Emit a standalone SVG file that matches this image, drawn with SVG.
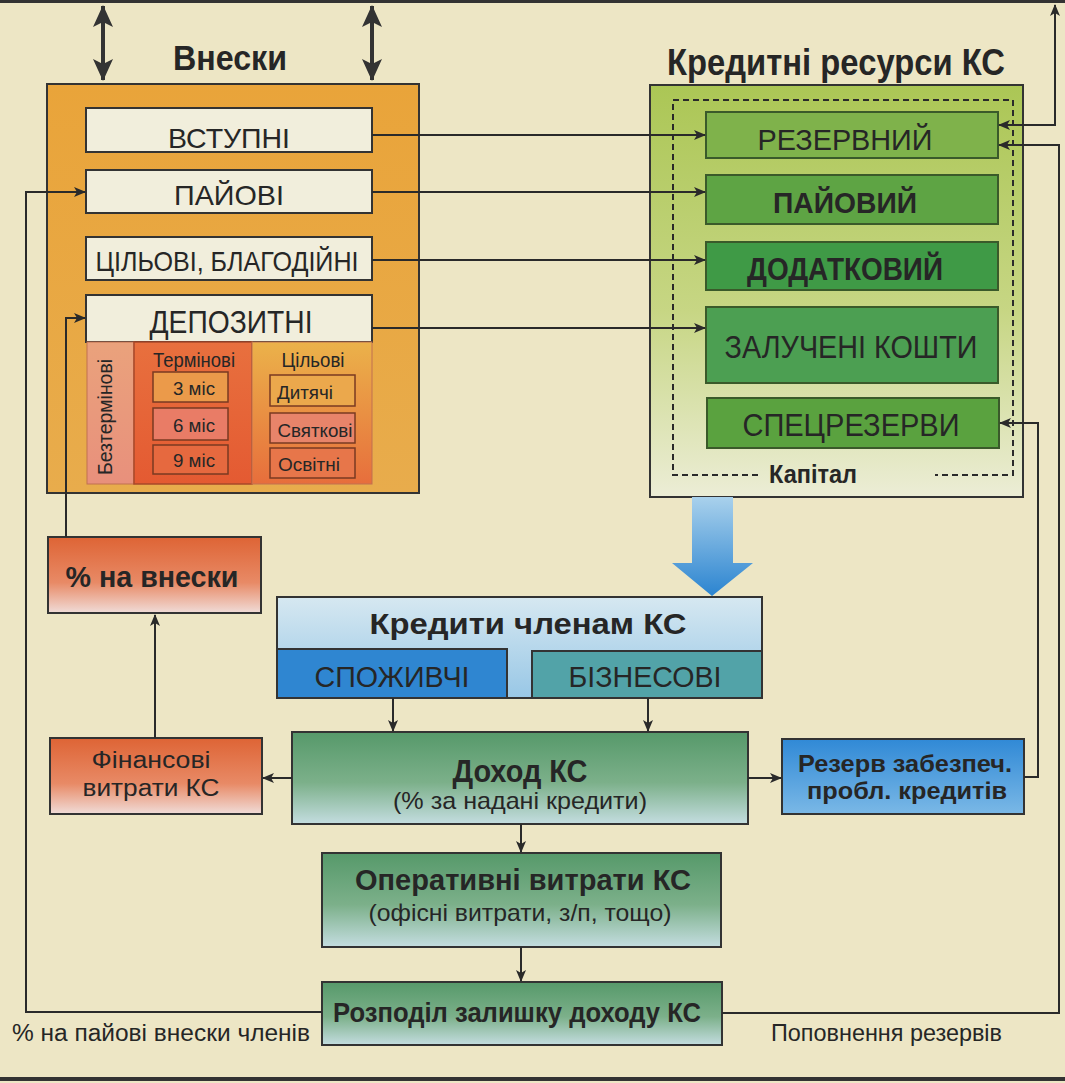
<svg xmlns="http://www.w3.org/2000/svg" width="1065" height="1083" viewBox="0 0 1065 1083">
<defs>
<marker id="ah" viewBox="0 0 12 10" refX="11" refY="5" markerWidth="12" markerHeight="10" markerUnits="userSpaceOnUse" orient="auto-start-reverse">
<path d="M0,0 L12,5 L0,10 L3,5 z" fill="#2a2a2a"/>
</marker>
<marker id="ahb" viewBox="0 0 22 20" refX="21" refY="10" markerWidth="22" markerHeight="20" markerUnits="userSpaceOnUse" orient="auto-start-reverse">
<path d="M0,0 L22,10 L0,20 L5,10 z" fill="#333"/>
</marker>
<linearGradient id="gOrange" x1="0" y1="0" x2="0" y2="1"><stop offset="0" stop-color="#e9a43a"/><stop offset="1" stop-color="#e8ac4c"/></linearGradient>
<linearGradient id="gGreenOuter" x1="0" y1="0" x2="0" y2="1"><stop offset="0" stop-color="#abc655"/><stop offset="0.55" stop-color="#c7d684"/><stop offset="1" stop-color="#ecedd6"/></linearGradient>
<linearGradient id="gBlueArrow" x1="0" y1="0" x2="0" y2="1"><stop offset="0" stop-color="#a9d1ec"/><stop offset="1" stop-color="#2b84d0"/></linearGradient>
<linearGradient id="gCred" x1="0" y1="0" x2="0" y2="1"><stop offset="0" stop-color="#d6e8f1"/><stop offset="1" stop-color="#98c7e6"/></linearGradient>
<linearGradient id="gIncome" x1="0" y1="0" x2="0" y2="1"><stop offset="0" stop-color="#56996a"/><stop offset="0.55" stop-color="#7cb08a"/><stop offset="1" stop-color="#c4dde0"/></linearGradient>
<linearGradient id="gRes" x1="0" y1="0" x2="0" y2="1"><stop offset="0" stop-color="#3089d6"/><stop offset="1" stop-color="#7ab8e6"/></linearGradient>
<linearGradient id="gRed" x1="0" y1="0" x2="0" y2="1"><stop offset="0" stop-color="#de6435"/><stop offset="0.6" stop-color="#e88a66"/><stop offset="1" stop-color="#f0dcd8"/></linearGradient>
<linearGradient id="gColA" x1="0" y1="0" x2="0" y2="1"><stop offset="0" stop-color="#eaa27c"/><stop offset="1" stop-color="#e8907c"/></linearGradient>
<linearGradient id="gColB" x1="0" y1="0" x2="0" y2="1"><stop offset="0" stop-color="#e8703e"/><stop offset="1" stop-color="#e45a32"/></linearGradient>
<linearGradient id="gColC" x1="0" y1="0" x2="0" y2="1"><stop offset="0" stop-color="#ebb24a"/><stop offset="1" stop-color="#e76e3c"/></linearGradient>
</defs>
<style>
.t{font-family:"Liberation Sans",Arial,sans-serif;fill:#262626;}
.b{font-weight:bold;}
.ln{fill:none;stroke:#2a2a2a;stroke-width:2;}
.box{stroke:#333;stroke-width:2;}
.wbox{fill:#f1eedc;stroke:#333;stroke-width:2;}
.gbox{stroke:#3a5a2a;stroke-width:2;}
.sbox{stroke:#7a3a22;stroke-width:1.5;}
</style>
<rect x="0" y="0" width="1065" height="1083" fill="#ede6c5"/>
<line x1="0" y1="1.5" x2="1065" y2="1.5" stroke="#333" stroke-width="3"/>
<line x1="0" y1="1079" x2="1065" y2="1079" stroke="#333" stroke-width="4"/>

<g id="vnesky">
<text class="t b" x="230" y="70" font-size="35" text-anchor="middle" textLength="114" lengthAdjust="spacingAndGlyphs">Внески</text>
<rect x="47" y="84" width="372" height="409" fill="url(#gOrange)" class="box"/>
</g>
<g id="vstupni"><rect x="86" y="108" width="286" height="44" class="wbox"/><text class="t" x="229" y="148" font-size="28" text-anchor="middle" textLength="122" lengthAdjust="spacingAndGlyphs">ВСТУПНІ</text></g>
<g id="paiovi"><rect x="86" y="170" width="286" height="43" class="wbox"/><text class="t" x="229" y="205" font-size="28" text-anchor="middle" textLength="110" lengthAdjust="spacingAndGlyphs">ПАЙОВІ</text></g>
<g id="tsilovi"><rect x="86" y="237" width="286" height="43" class="wbox"/><text class="t" x="227" y="271" font-size="28" text-anchor="middle" textLength="263" lengthAdjust="spacingAndGlyphs">ЦІЛЬОВІ, БЛАГОДІЙНІ</text></g>
<g id="depozytni">
<rect x="86" y="295" width="286" height="47" class="wbox"/>
<text class="t" x="231" y="333" font-size="31" text-anchor="middle" textLength="163" lengthAdjust="spacingAndGlyphs">ДЕПОЗИТНІ</text>
<rect x="87" y="342" width="47" height="142" fill="url(#gColA)" stroke="#c07050" stroke-width="1"/>
<rect x="134" y="342" width="118" height="142" fill="url(#gColB)" stroke="#a8482a" stroke-width="1.5"/>
<rect x="252" y="342" width="120" height="142" fill="url(#gColC)" stroke="#c07050" stroke-width="1"/>
<text class="t" x="112" y="417" font-size="20" text-anchor="middle" transform="rotate(-90 112 417)" textLength="116" lengthAdjust="spacingAndGlyphs">Безтермінові</text>
<text class="t" x="194" y="367" font-size="20" text-anchor="middle" textLength="82" lengthAdjust="spacingAndGlyphs">Термінові</text>
<text class="t" x="313" y="367" font-size="20" text-anchor="middle" textLength="63" lengthAdjust="spacingAndGlyphs">Цільові</text>
<rect x="153" y="372" width="75" height="30" fill="#eb9a4a" class="sbox"/>
<text class="t" x="194" y="395" font-size="19" text-anchor="middle" textLength="42" lengthAdjust="spacingAndGlyphs">3 міс</text>
<rect x="153" y="408" width="75" height="32" fill="#e97c66" class="sbox"/>
<text class="t" x="194" y="432" font-size="19" text-anchor="middle" textLength="42" lengthAdjust="spacingAndGlyphs">6 міс</text>
<rect x="153" y="445" width="75" height="29" fill="#e6693f" class="sbox"/>
<text class="t" x="194" y="467" font-size="19" text-anchor="middle" textLength="42" lengthAdjust="spacingAndGlyphs">9 міс</text>
<rect x="270" y="375" width="85" height="31" fill="#eba84c" class="sbox"/>
<text class="t" x="305" y="399" font-size="19" text-anchor="middle" textLength="56" lengthAdjust="spacingAndGlyphs">Дитячі</text>
<rect x="270" y="413" width="85" height="30" fill="#e8846a" class="sbox"/>
<text class="t" x="315" y="437" font-size="19" text-anchor="middle" textLength="75" lengthAdjust="spacingAndGlyphs">Святкові</text>
<rect x="270" y="448" width="85" height="30" fill="#e7764a" class="sbox"/>
<text class="t" x="309" y="471" font-size="19" text-anchor="middle" textLength="62" lengthAdjust="spacingAndGlyphs">Освітні</text>
</g>

<g id="kredytni-resursy">
<text class="t b" x="836" y="75" font-size="37" text-anchor="middle" textLength="338" lengthAdjust="spacingAndGlyphs">Кредитні ресурси КС</text>
<rect x="650" y="85" width="373" height="412" fill="url(#gGreenOuter)" class="box"/>
<path d="M758,475 L673,475 L673,100 L1013,100 L1013,475 L935,475" fill="none" stroke="#2a2a2a" stroke-width="2" stroke-dasharray="6,4"/>
<text class="t b" x="813" y="483" font-size="25" text-anchor="middle" textLength="88" lengthAdjust="spacingAndGlyphs">Капітал</text>
</g>
<g id="rezervnyi"><rect x="706" y="112" width="292" height="46" fill="#7fb24b" class="gbox"/><text class="t" x="845" y="150" font-size="29" text-anchor="middle" textLength="175" lengthAdjust="spacingAndGlyphs">РЕЗЕРВНИЙ</text></g>
<g id="paiovyi"><rect x="706" y="175" width="292" height="49" fill="#5ea444" class="gbox"/><text class="t b" x="845" y="213" font-size="29" text-anchor="middle" textLength="144" lengthAdjust="spacingAndGlyphs">ПАЙОВИЙ</text></g>
<g id="dodatkovyi"><rect x="706" y="242" width="292" height="48" fill="#3f9a46" class="gbox"/><text class="t b" x="845" y="280" font-size="31" text-anchor="middle" textLength="196" lengthAdjust="spacingAndGlyphs">ДОДАТКОВИЙ</text></g>
<g id="zalucheni"><rect x="706" y="307" width="292" height="76" fill="#4c9f52" class="gbox"/><text class="t" x="851" y="358" font-size="32" text-anchor="middle" textLength="253" lengthAdjust="spacingAndGlyphs">ЗАЛУЧЕНІ КОШТИ</text></g>
<g id="spetsrezervy"><rect x="707" y="398" width="292" height="50" fill="#5aa23f" class="gbox"/><text class="t" x="851" y="436" font-size="31" text-anchor="middle" textLength="217" lengthAdjust="spacingAndGlyphs">СПЕЦРЕЗЕРВИ</text></g>

<g id="blue-arrow"><polygon points="692,497 733,497 733,563 753,563 712,596 672,563 692,563" fill="url(#gBlueArrow)"/></g>

<g id="kredyty">
<rect x="277" y="597" width="485" height="101" fill="url(#gCred)" class="box"/>
<text class="t b" x="528" y="634" font-size="30" text-anchor="middle" textLength="317" lengthAdjust="spacingAndGlyphs">Кредити членам КС</text>
</g>
<g id="spozhyvchi"><rect x="277" y="649" width="230" height="49" fill="#2f86d1" class="box"/><text class="t" x="392" y="687" font-size="29" text-anchor="middle" textLength="155" lengthAdjust="spacingAndGlyphs">СПОЖИВЧІ</text></g>
<g id="biznesovi"><rect x="532" y="651" width="230" height="47" fill="#52a3a8" class="box"/><text class="t" x="645" y="687" font-size="29" text-anchor="middle" textLength="153" lengthAdjust="spacingAndGlyphs">БІЗНЕСОВІ</text></g>

<g id="vidsotok-vnesky"><rect x="48" y="537" width="213" height="76" fill="url(#gRed)" class="box"/><text class="t b" x="152" y="587" font-size="30" text-anchor="middle" textLength="173" lengthAdjust="spacingAndGlyphs">% на внески</text></g>
<g id="finansovi"><rect x="50" y="738" width="212" height="76" fill="url(#gRed)" class="box"/>
<text class="t" x="151" y="768" font-size="23" text-anchor="middle" textLength="119" lengthAdjust="spacingAndGlyphs">Фінансові</text>
<text class="t" x="151" y="796" font-size="23" text-anchor="middle" textLength="137" lengthAdjust="spacingAndGlyphs">витрати КС</text></g>

<g id="dokhid"><rect x="292" y="732" width="456" height="92" fill="url(#gIncome)" class="box"/>
<text class="t b" x="520" y="782" font-size="31" text-anchor="middle" textLength="135" lengthAdjust="spacingAndGlyphs">Доход КС</text>
<text class="t" x="520" y="809" font-size="24" text-anchor="middle" textLength="254" lengthAdjust="spacingAndGlyphs">(% за надані кредити)</text></g>

<g id="rezerv-zabezpech"><rect x="782" y="739" width="242" height="75" fill="url(#gRes)" class="box"/>
<text class="t b" x="905" y="772" font-size="24" text-anchor="middle" textLength="214" lengthAdjust="spacingAndGlyphs">Резерв забезпеч.</text>
<text class="t b" x="907" y="799" font-size="24" text-anchor="middle" textLength="200" lengthAdjust="spacingAndGlyphs">пробл. кредитів</text></g>

<g id="operatyvni"><rect x="322" y="853" width="399" height="94" fill="url(#gIncome)" class="box"/>
<text class="t b" x="523" y="890" font-size="29" text-anchor="middle" textLength="336" lengthAdjust="spacingAndGlyphs">Оперативні витрати КС</text>
<text class="t" x="520" y="921" font-size="24" text-anchor="middle" textLength="303" lengthAdjust="spacingAndGlyphs">(офісні витрати, з/п, тощо)</text></g>

<g id="rozpodil"><rect x="322" y="982" width="400" height="63" fill="url(#gIncome)" class="box"/>
<text class="t b" x="517" y="1022" font-size="28" text-anchor="middle" textLength="368" lengthAdjust="spacingAndGlyphs">Розподіл залишку доходу КС</text></g>

<g id="labels">
<text class="t" x="12" y="1041" font-size="23" textLength="298" lengthAdjust="spacingAndGlyphs">% на пайові внески членів</text>
<text class="t" x="771" y="1041" font-size="23" textLength="231" lengthAdjust="spacingAndGlyphs">Поповнення резервів</text>
</g>

<g id="connectors">
<line x1="103" y1="6" x2="103" y2="80" stroke="#333" stroke-width="4" marker-start="url(#ahb)" marker-end="url(#ahb)"/>
<line x1="372" y1="6" x2="372" y2="80" stroke="#333" stroke-width="4" marker-start="url(#ahb)" marker-end="url(#ahb)"/>
<line class="ln" x1="372" y1="135" x2="705" y2="135" marker-end="url(#ah)"/>
<line class="ln" x1="372" y1="192" x2="705" y2="192" marker-end="url(#ah)"/>
<line class="ln" x1="372" y1="260" x2="705" y2="260" marker-end="url(#ah)"/>
<line class="ln" x1="372" y1="328" x2="705" y2="328" marker-end="url(#ah)"/>
<polyline class="ln" points="322,1012 26,1012 26,192 85,192" marker-end="url(#ah)"/>
<polyline class="ln" points="66,537 66,318 85,318" marker-end="url(#ah)"/>
<line class="ln" x1="155" y1="738" x2="155" y2="615" marker-end="url(#ah)"/>
<line class="ln" x1="292" y1="778" x2="263" y2="778" marker-end="url(#ah)"/>
<line class="ln" x1="393" y1="698" x2="393" y2="731" marker-end="url(#ah)"/>
<line class="ln" x1="648" y1="698" x2="648" y2="731" marker-end="url(#ah)"/>
<line class="ln" x1="521" y1="824" x2="521" y2="852" marker-end="url(#ah)"/>
<line class="ln" x1="521" y1="947" x2="521" y2="981" marker-end="url(#ah)"/>
<line class="ln" x1="748" y1="778" x2="781" y2="778" marker-end="url(#ah)"/>
<polyline class="ln" points="1024,777 1038,777 1038,423 1000,423" marker-end="url(#ah)"/>
<polyline class="ln" points="722,1013 1059,1013 1059,145 999,145" marker-end="url(#ah)"/>
<polyline class="ln" points="1055,5 1055,125 999,125" marker-start="url(#ah)" marker-end="url(#ah)"/>
</g>
</svg>
